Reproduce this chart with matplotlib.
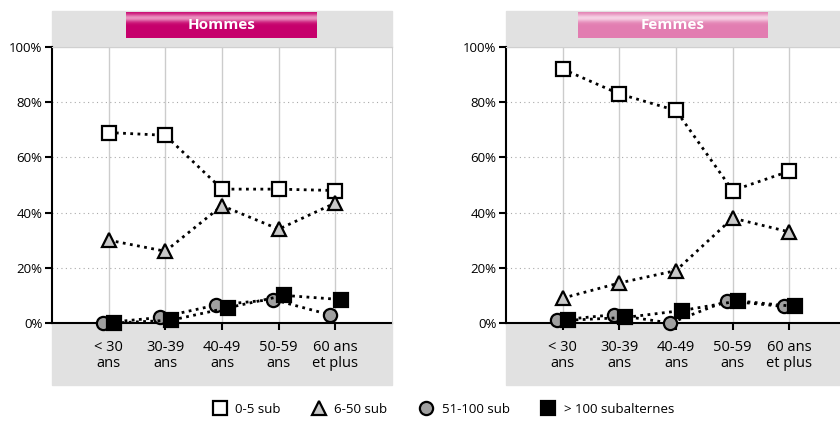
import numpy as np
import matplotlib
matplotlib.use('Agg')
import matplotlib.pyplot as plt
from matplotlib.patches import Rectangle
from matplotlib.colors import to_rgb
from matplotlib.lines import Line2D

plt.rcParams['font.family'] = ['Liberation Sans Narrow', 'Open Sans', 'DejaVu Sans']

categories = ['< 30\nans', '30-39\nans', '40-49\nans', '50-59\nans', '60 ans\net plus']
series_names = ['0-5 sub', '6-50 sub', '51-100 sub', '> 100 subalternes']

hommes_0_5 = [69, 68, 48.5, 48.5, 48]
hommes_6_50 = [30, 26, 42.5, 34, 43.5]
hommes_51_100 = [0, 2, 6.5, 8.5, 3]
hommes_100 = [0, 1, 5.5, 10, 8.5]

femmes_0_5 = [92, 83, 77, 48, 55]
femmes_6_50 = [9, 14.5, 19, 38, 33]
femmes_51_100 = [1, 3, 0, 8, 6]
femmes_100 = [1, 2, 4.5, 8, 6]

W, H = 840, 422
fig = plt.figure(figsize=(W / 100, H / 100), dpi=100)

GRAY_BAND = '#E1E1E1'
styles = [
    dict(marker='s', mfc='white', offset=0.0),
    dict(marker='^', mfc='#C8C8C8', offset=0.0),
    dict(marker='o', mfc='#A0A0A0', offset=-0.1),
    dict(marker='s', mfc='black', offset=0.1),
]


def fx(px):
    return px / W


def fy(py):
    return 1 - py / H


def gradient_box(x0, x1, y0, y1, base, light, label):
    bax = fig.add_axes([fx(x0), fy(y1), fx(x1) - fx(x0), fy(y0) - fy(y1)], zorder=2)
    n = 60
    t = np.linspace(0, 1, n)
    # bright stripe near the top, fading into the base colour
    w = np.exp(-((t - 0.22) / 0.15) ** 2) * 0.8
    b = np.array(to_rgb(base))
    l = np.array(to_rgb(light))
    img = (1 - w)[:, None] * b + w[:, None] * l
    bax.imshow(img[:, None, :], aspect='auto', extent=[0, 1, 1, 0])
    bax.set_axis_off()
    bax.text(0.5, 0.5, label, transform=bax.transAxes, ha='center', va='center',
             color='white', fontsize=11, fontweight='bold')


def panel(left_px, right_px, title, title_x, base, light, data):
    fig.patches.append(Rectangle((fx(left_px), fy(47)), fx(right_px) - fx(left_px), fy(11) - fy(47),
                                 transform=fig.transFigure, color=GRAY_BAND, zorder=-5))
    fig.patches.append(Rectangle((fx(left_px), fy(385)), fx(right_px) - fx(left_px), fy(323) - fy(385),
                                 transform=fig.transFigure, color=GRAY_BAND, zorder=-5))
    gradient_box(title_x[0], title_x[1], 12, 38, base, light, title)

    ax = fig.add_axes([fx(left_px), fy(323), fx(right_px) - fx(left_px), fy(47) - fy(323)], zorder=1)
    ax.set_facecolor('none')
    x = np.arange(len(categories))
    for vals, st in zip(data, styles):
        ax.plot(x + st['offset'], vals, linestyle=(0, (1, 1.6)), lw=2, color='black',
                marker=st['marker'], markersize=9.5, mfc=st['mfc'], mec='black', mew=1.6,
                clip_on=False, zorder=3)
    ax.set_xlim(-1, 5)
    ax.set_ylim(0, 100)
    ax.set_xticks(x)
    ax.set_xticklabels(categories, fontsize=10.5, linespacing=1.15)
    ax.set_yticks([0, 20, 40, 60, 80, 100])
    ax.set_yticklabels(['0%', '20%', '40%', '60%', '80%', '100%'], fontsize=9.5)
    ax.tick_params(axis='x', length=5, width=1.5, pad=7, color='black')
    ax.tick_params(axis='y', length=5, width=1.5, pad=2, color='black')
    for xv in x:
        ax.axvline(xv, color='#CCCCCC', lw=1, zorder=1)
    for yv in [20, 40, 60, 80]:
        ax.axhline(yv, color='#AAAAAA', lw=0.8, linestyle=(0, (1, 3)), zorder=1)
    ax.spines['left'].set_linewidth(1.5)
    ax.spines['bottom'].set_linewidth(1.5)
    ax.spines['top'].set_color('#D0D0D0')
    ax.spines['right'].set_color('#D0D0D0')
    ax.spines['bottom'].set_zorder(2)
    return ax


panel(52, 392, 'Hommes', (126, 317), '#C6006C', '#F4B8D6',
      [hommes_0_5, hommes_6_50, hommes_51_100, hommes_100])
panel(506, 846, 'Femmes', (578, 768), '#E27DB1', '#FBE6F1',
      [femmes_0_5, femmes_6_50, femmes_51_100, femmes_100])

handles = [Line2D([], [], linestyle='none', marker=st['marker'], markersize=9.5,
                  mfc=st['mfc'], mec='black', mew=1.6) for st in styles]
fig.legend(handles, series_names, loc='center', bbox_to_anchor=(0.526, 0.03), ncol=4,
           frameon=False, fontsize=9.5, handletextpad=0.4, handlelength=1.5, columnspacing=2.2)

fig.savefig('out.png', dpi=100)
